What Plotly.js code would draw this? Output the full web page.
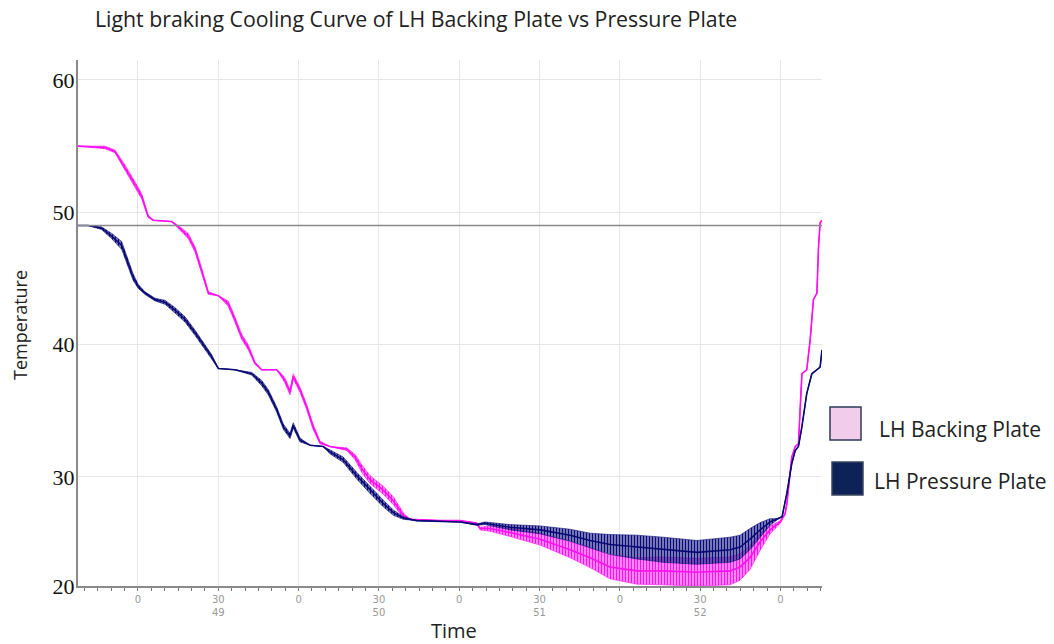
<!DOCTYPE html>
<html>
<head>
<meta charset="utf-8">
<script src="https://cdn.plot.ly/plotly-3.0.1.min.js"></script>
<style>html,body{margin:0;padding:0;background:#fff;}#chart{width:1054px;height:644px;}</style>
</head>
<body>
<div id="chart"></div>
<script>
// ---- data (time in seconds relative to minute mark "0" before 49; temperature) ----
const backingTime = [-22.4,-12.3,-8.6,-4.9,-1.1,1.4,3.8,5.7,12.6,15.1,18.8,21.3,23.8,26.3,30.0,33.7,36.2,38.7,41.2,43.7,46.2,51.8,53.1,54.9,56.8,58.0,60.5,63.0,65.4,68.0,71.7,78.0,81.1,83.7,86.7,91.6,95.4,99.1,101.6,112.8,120.3,126.5,127.8,131.5,139.0,150.2,161.4,168.9,176.3,186.4,196.1,208.8,221.2,224.9,228.6,232.4,236.1,239.9,241.7,242.4,244.2,245.5,246.7,248.0,249.8,251.1,252.3,253.6,254.2,254.8,255.5];
const backingTemp = [55.0,54.9,54.6,53.4,52.1,51.2,49.7,49.4,49.3,48.9,48.2,47.2,45.6,43.9,43.7,43.1,41.9,40.6,39.8,38.6,38.1,38.1,37.8,37.3,36.4,37.6,36.6,35.3,33.8,32.6,32.3,32.1,31.5,30.6,29.8,29.0,28.2,27.1,26.8,26.7,26.7,26.5,26.1,26.1,25.8,25.3,24.5,23.9,23.2,22.9,22.9,22.8,22.9,23.2,23.9,25.1,26.0,26.6,27.2,28.0,31.5,32.3,32.5,37.8,38.1,40.4,43.4,43.9,47.4,49.2,49.4];
const backingSpread = [0,0.1,0.1,0.2,0.2,0.2,0.1,0,0,0.1,0.2,0.2,0.2,0.1,0,0.2,0.2,0.2,0.2,0.1,0,0,0.1,0.2,0.2,0.2,0.2,0.2,0.2,0.1,0,0.1,0.2,0.3,0.3,0.3,0.3,0.2,0,0,0,0.05,0.1,0.2,0.3,0.45,0.6,0.75,0.9,1.0,1.05,1.05,1.05,1.0,0.9,0.65,0.3,0.1,0,0,0,0,0,0,0,0,0,0,0,0,0];

const pressureTime = [-22.4,-18.6,-13.6,-9.8,-6.1,-3.6,-1.8,0.1,2.6,6.4,10.1,13.8,17.6,21.3,25.0,27.5,30.0,36.2,42.5,46.2,48.7,51.8,54.3,56.8,58.0,60.5,64.3,69.2,71.7,76.7,81.7,86.7,91.6,95.4,99.1,104.1,120.3,126.5,129.6,139.0,150.2,161.4,168.9,176.3,186.4,196.1,208.8,221.2,224.9,228.6,232.4,236.1,238.7,240.6,242.4,244.2,245.5,246.7,248.0,249.8,251.7,253.6,254.8,255.5];
const pressureTemp = [49.0,49.0,48.8,48.2,47.5,46.1,45.1,44.4,43.9,43.4,43.2,42.6,41.9,40.9,39.8,39.1,38.2,38.1,37.8,37.1,36.4,35.1,33.8,33.1,33.9,32.8,32.4,32.3,31.9,31.3,30.1,29.0,28.0,27.3,26.9,26.7,26.6,26.4,26.5,26.2,26.0,25.6,25.2,24.9,24.7,24.5,24.3,24.5,24.7,25.3,26.0,26.6,26.8,27.0,28.8,31.0,32.0,32.3,33.8,36.3,37.8,38.1,38.3,39.6];
const pressureSpread = [0,0,0.1,0.2,0.3,0.3,0.25,0.15,0.1,0.1,0.15,0.2,0.2,0.2,0.2,0.15,0,0,0.1,0.2,0.2,0.2,0.2,0.2,0.2,0.15,0,0,0.15,0.2,0.25,0.25,0.25,0.2,0.1,0,0,0.05,0.1,0.2,0.3,0.45,0.55,0.75,0.9,0.95,0.9,0.95,0.9,0.8,0.55,0.25,0.05,0,0,0,0,0,0,0,0,0,0,0];

const referenceLine = 49.0;
const xTickVals = [0,30,60,90,120,150,180,210,240];
const xTickText = ['0','30<br>49','0','30<br>50','0','30<br>51','0','30<br>52','0'];
const yTickVals = [21.76,30,40,50,60];
const yTickText = ['20','30','40','50','60'];
const seriesNames = ['LH Backing Plate','LH Pressure Plate'];

// ---- build traces ----
function band(t, v, s, color, bg) {
  const lo = v.map((d,i)=>d - s[i]);
  const hi = v.map((d,i)=>d + s[i]);
  return [
    {x:t, y:lo, mode:'lines', line:{width:0.6,color:color}, hoverinfo:'skip', showlegend:false},
    {x:t, y:hi, mode:'lines', line:{width:0.6,color:color}, fill:'tonexty', fillcolor:bg,
     fillpattern:{shape:'|', size:3, solidity:0.5, fgcolor:color, bgcolor:bg}, hoverinfo:'skip', showlegend:false}
  ];
}
const magenta = '#ff10f0';
const navy = '#0a0a76';
const traces = [
  ...band(backingTime, backingTemp, backingSpread, magenta, 'rgba(255,90,240,0.5)'),
  {x:backingTime, y:backingTemp, mode:'lines', name:seriesNames[0], line:{color:magenta,width:1.6}, showlegend:false},
  ...band(pressureTime, pressureTemp, pressureSpread, navy, 'rgba(50,50,150,0.5)'),
  {x:pressureTime, y:pressureTemp, mode:'lines', name:seriesNames[1], line:{color:navy,width:1.6}, showlegend:false}
];

const L = 78, R = 822, T = 60, B = 586;
const px = x => (x - L) / (R - L);
const py = y => (B - y) / (B - T);

const layout = {
  width:1054, height:644,
  margin:{l:L, r:1054-R, t:T, b:644-B, pad:0},
  paper_bgcolor:'#ffffff', plot_bgcolor:'#ffffff',
  showlegend:false,
  title:{text:'Light braking Cooling Curve of LH Backing Plate vs Pressure Plate', x:95/1054, xanchor:'left', xref:'container', y:1-20/644, yanchor:'middle', yref:'container', font:{family:'Open Sans', size:21.3, color:'#222'}},
  xaxis:{range:[-22.4,255.5], tickvals:xTickVals, ticktext:xTickText, showgrid:true, gridcolor:'#e6e6e6', gridwidth:1,
         showline:true, linecolor:'#8a8a8a', linewidth:2, ticks:'outside', ticklen:3, tickcolor:'#777',
         minor:{dtick:5, tick0:0, ticks:'outside', ticklen:3, tickcolor:'#777', showgrid:false},
         tickfont:{family:'DejaVu Sans', size:10, color:'#999'}, zeroline:false, fixedrange:true},
  yaxis:{range:[21.76,61.51], tickvals:yTickVals, ticktext:yTickText, showgrid:true, gridcolor:'#e6e6e6', gridwidth:1,
         showline:true, linecolor:'#8a8a8a', linewidth:2, ticks:'', ticklabelstandoff:-3,
         tickfont:{family:'Liberation Serif', size:22, color:'#111'}, zeroline:false, fixedrange:true},
  shapes:[
    {type:'line', xref:'paper', yref:'y', x0:0, x1:1, y0:referenceLine, y1:referenceLine, line:{color:'#8a8a8a', width:1.5}},
    {type:'rect', xref:'paper', yref:'paper', x0:px(830), x1:px(861), y0:py(440), y1:py(407), fillcolor:'#f1cdeb', line:{color:'#2d3b58', width:1.5}},
    {type:'rect', xref:'paper', yref:'paper', x0:px(832), x1:px(863), y0:py(495), y1:py(462), fillcolor:'#0d2256', line:{color:'#3a4660', width:1.5}}
  ],
  annotations:[
    {text:'Temperature', xref:'paper', yref:'paper', x:px(20), y:py(325), textangle:-90, showarrow:false, xanchor:'center', yanchor:'middle', font:{family:'Open Sans', size:18, color:'#222'}},
    {text:'Time', xref:'paper', yref:'paper', x:px(454), y:py(630), showarrow:false, xanchor:'center', yanchor:'middle', font:{family:'Open Sans', size:20, color:'#222'}},
    {text:seriesNames[0], xref:'paper', yref:'paper', x:px(877), y:py(429), showarrow:false, xanchor:'left', yanchor:'middle', font:{family:'Open Sans', size:21, color:'#222'}},
    {text:seriesNames[1], xref:'paper', yref:'paper', x:px(872), y:py(481), showarrow:false, xanchor:'left', yanchor:'middle', font:{family:'Open Sans', size:21, color:'#222'}}
  ]
};

Plotly.newPlot('chart', traces, layout, {staticPlot:true, displayModeBar:false});
</script>
</body>
</html>
